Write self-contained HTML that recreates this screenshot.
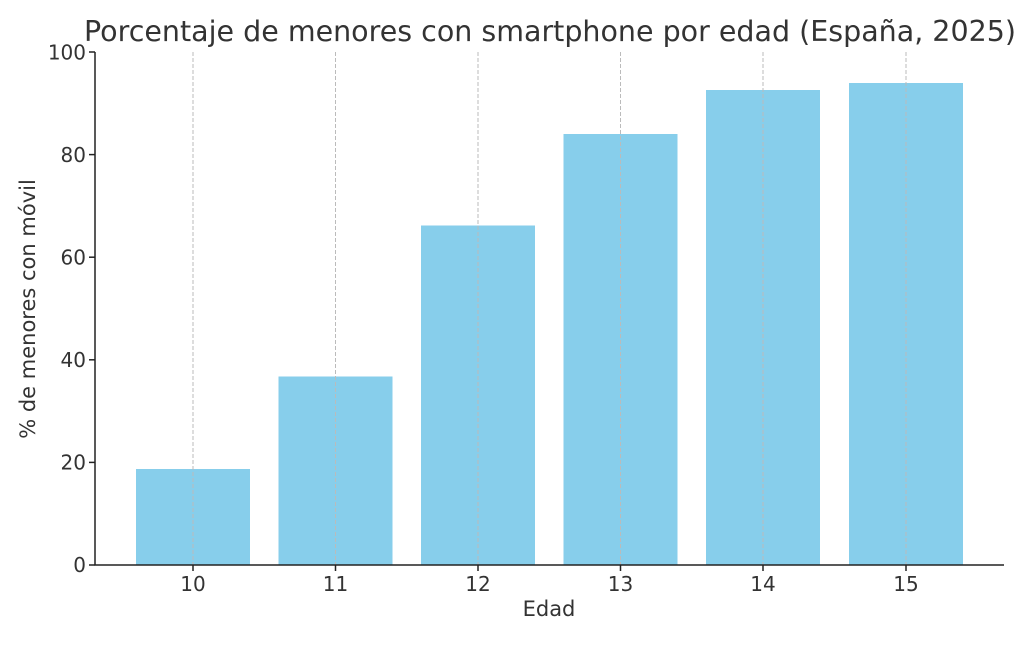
<!DOCTYPE html>
<html><head><meta charset="utf-8"><style>body{margin:0;background:#fff}</style></head>
<body>
<svg width="1024" height="640" xmlns="http://www.w3.org/2000/svg" font-family="DejaVu Sans, Liberation Sans, sans-serif">
<rect width="1024" height="640" fill="#fff"/>
<g fill="#87CEEB">
<rect x="136" y="469" width="114" height="96"/>
<rect x="278.5" y="376.5" width="114" height="188.5"/>
<rect x="421" y="225.5" width="114" height="339.5"/>
<rect x="563.5" y="134" width="114" height="431"/>
<rect x="706" y="90" width="114" height="475"/>
<rect x="849" y="83" width="114" height="482"/>
</g>
<g stroke="#bbb" stroke-width="1" stroke-dasharray="4,2">
<line x1="193" y1="52" x2="193" y2="565"/><line x1="335.5" y1="52" x2="335.5" y2="565"/>
<line x1="478" y1="52" x2="478" y2="565"/><line x1="620.5" y1="52" x2="620.5" y2="565"/>
<line x1="763" y1="52" x2="763" y2="565"/><line x1="906" y1="52" x2="906" y2="565"/>
</g>
<g stroke="#222" stroke-width="1.5" fill="none">
<line x1="95" y1="52" x2="95" y2="565.5"/><line x1="94.5" y1="565" x2="1004" y2="565"/>
<line x1="89" y1="565" x2="95" y2="565"/><line x1="89" y1="462.4" x2="95" y2="462.4"/>
<line x1="89" y1="359.8" x2="95" y2="359.8"/><line x1="89" y1="257.2" x2="95" y2="257.2"/>
<line x1="89" y1="154.6" x2="95" y2="154.6"/><line x1="89" y1="52" x2="95" y2="52"/>
<line x1="193" y1="565" x2="193" y2="571"/><line x1="335.5" y1="565" x2="335.5" y2="571"/>
<line x1="478" y1="565" x2="478" y2="571"/><line x1="620.5" y1="565" x2="620.5" y2="571"/>
<line x1="763" y1="565" x2="763" y2="571"/><line x1="906" y1="565" x2="906" y2="571"/>
</g>
<g fill="#333" font-size="20" text-anchor="end">
<text x="86" y="572">0</text><text x="86" y="469.5">20</text><text x="86" y="367">40</text>
<text x="86" y="264.5">60</text><text x="86" y="162">80</text><text x="86" y="59.5">100</text>
</g>
<g fill="#333" font-size="20" text-anchor="middle">
<text x="193" y="591">10</text><text x="335.5" y="591">11</text><text x="478" y="591">12</text>
<text x="620.5" y="591">13</text><text x="763" y="591">14</text><text x="906" y="591">15</text>
<text x="549" y="616" font-size="21">Edad</text>
<text transform="translate(35,309) rotate(-90)" font-size="21">% de menores con móvil</text>
<text x="550" y="41" font-size="28.5">Porcentaje de menores con smartphone por edad (España, 2025)</text>
</g>
</svg>
</body></html>
